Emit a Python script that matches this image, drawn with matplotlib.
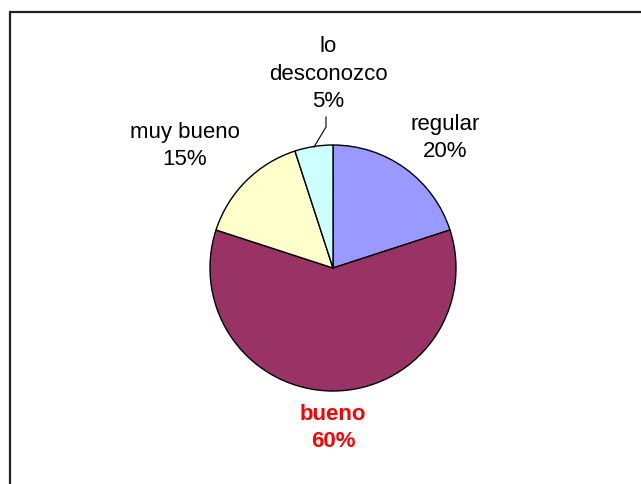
import matplotlib.pyplot as plt
from matplotlib.patches import Rectangle

plt.rcParams["font.family"] = ["Liberation Sans", "DejaVu Sans"]

categories = ["regular", "bueno", "muy bueno", "lo desconozco"]
shares = [20, 60, 15, 5]
colors = ["#9999FF", "#993366", "#FFFFCC", "#CCFFFF"]

W, H = 641, 484
fig = plt.figure(figsize=(W / 100, H / 100), dpi=100)
ax = fig.add_axes([0, 0, 1, 1])

# chart area border (runs off the right and bottom edges)
ax.add_patch(Rectangle((9.5, -20), W + 40, H - 12 + 20, fill=False,
                       edgecolor="#222222", linewidth=1.6))

cx, cy, r = 333, H - 268, 123
ax.pie(shares, colors=colors, startangle=90, counterclock=False,
       center=(cx, cy), radius=r, frame=True,
       wedgeprops=dict(edgecolor="black", linewidth=1.0))
ax.set_xlim(0, W)
ax.set_ylim(0, H)
ax.set_aspect("equal")
ax.axis("off")

label_pos = {
    "regular": (445, H - 138),
    "bueno": (333, H - 428),
    "muy bueno": (185, H - 146),
    "lo desconozco": (328, H - 74),
}
for name, val in zip(categories, shares):
    x, y = label_pos[name]
    text = name.replace("lo desconozco", "lo\ndesconozco") + f"\n{val}%"
    bold = name == "bueno"
    ax.text(x, y, text, ha="center", va="center", fontsize=16,
            fontweight="bold" if bold else "normal",
            color="red" if bold else "black", linespacing=1.38)

# leader line for the small slice
ax.plot([326, 326, 314], [H - 117, H - 127, H - 147], color="black", linewidth=0.8)

fig.savefig("out.png", dpi=100)
